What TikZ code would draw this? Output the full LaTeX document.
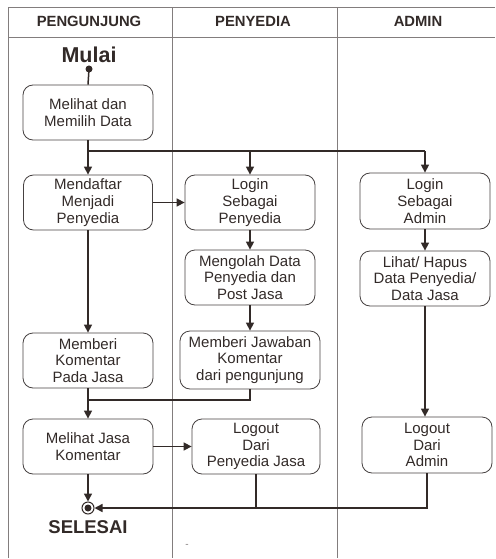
\documentclass[tikz,border=0pt]{standalone}
\usepackage{fontspec}
\setmainfont{Liberation Sans}
\usetikzlibrary{arrows.meta}
\definecolor{lane}{RGB}{130,125,125}
\definecolor{ink}{RGB}{50,42,40}
\definecolor{boxc}{RGB}{70,65,65}
\tikzset{
  act/.style={draw=boxc, line width=0.8pt, rounded corners=10pt, align=center,
     inner sep=0pt, font=\fontsize{15}{16.7}\selectfont, text=ink},
  conn/.style={draw=ink, line width=1.5pt},
  arr/.style={conn, -{Triangle[length=8pt,width=8pt]}},
  hdr/.style={font=\bfseries\fontsize{14.8}{16}\selectfont, text=ink},
}
\begin{document}
\begin{tikzpicture}[x=1pt,y=-1pt]
\useasboundingbox (0,0) rectangle (495,559);
% swimlanes
\draw[lane, line width=1pt] (8,558) -- (8,8) -- (495,8);
\draw[lane, line width=1pt] (8,38) -- (495,38);
\draw[lane, line width=1pt] (172,8) -- (172,558);
\draw[lane, line width=1pt] (337,8) -- (337,558);
\node[hdr] (h1) at (89,21) {PENGUNJUNG};
\node[hdr] (h2) at (253,21) {PENYEDIA};
\node[hdr] (h3) at (418,21) {ADMIN};
% start
\node[font=\bfseries\fontsize{21.5}{22}\selectfont, text=ink] (mulai) at (89,55) {Mulai};
\fill[ink] (89,69) circle (3.5) coordinate (start);
% activities
\node[act, minimum width=130pt, minimum height=55pt] (a1) at (88,112.5) {Melihat dan\\Memilih Data};
\node[act, minimum width=129pt, minimum height=55pt] (a2) at (88,202.5) {Mendaftar\\Menjadi\\Penyedia};
\node[act, minimum width=130pt, minimum height=55pt] (b1) at (250,202.5) {Login\\Sebagai\\Penyedia};
\node[act, minimum width=130pt, minimum height=56pt] (c1) at (425,201) {Login\\Sebagai\\Admin};
\node[act, minimum width=130pt, minimum height=55pt] (b2) at (250,277.5) {Mengolah Data\\Penyedia dan\\Post Jasa};
\node[act, minimum width=130pt, minimum height=55pt] (c2) at (425,278.5) {Lihat/ Hapus\\Data Penyedia/\\Data Jasa};
\node[act, minimum width=130pt, minimum height=55pt] (a3) at (88,360.5) {Memberi\\Komentar\\Pada Jasa};
\node[act, minimum width=140pt, minimum height=58pt] (b3) at (250,360) {Memberi Jawaban\\Komentar\\dari pengunjung};
\node[act, minimum width=130pt, minimum height=55pt] (a4) at (88,446.5) {Melihat Jasa\\Komentar};
\node[act, minimum width=128pt, minimum height=55pt] (b4) at (256,446.5) {Logout\\Dari\\Penyedia Jasa};
\node[act, minimum width=130pt, minimum height=56pt] (c3) at (427,445) {Logout\\Dari\\Admin};
% end
\node[circle, draw=ink, line width=1pt, minimum size=12pt, inner sep=0pt] (end) at (88,508) {};
\fill[ink] (end.center) circle (3.5);
\node[font=\bfseries\fontsize{18.5}{20}\selectfont, text=ink] (selesai) at (88,527) {SELESAI};
\node[font=\fontsize{10}{12}\selectfont, text=lane] (dash) at (187,546) {-};
% connectors
\draw[conn] (start) -- (a1.north);
\coordinate (fork) at (88,151);
\draw[conn] (a1.south) -- (fork);
\draw[conn] (fork) -- (425,151);
\draw[arr] (fork) -- (a2.north);
\draw[arr] (250,151) -- (b1.north);
\draw[arr] (425,151) -- (c1.north);
\draw[arr] (a2.east) -- (b1.west);
\draw[arr] (b1.south) -- (b2.north);
\draw[arr] (c1.south) -- (c2.north);
\draw[arr] (b2.south) -- (b3.north);
\draw[arr] (a2.south) -- (a3.north);
\draw[arr] (c2.south) -- (c2.south |- c3.north);
\coordinate (merge) at (88,400);
\draw[conn] (b3.south) |- (merge);
\draw[arr] (a3.south) -- (a4.north);
\draw[arr] (a4.east) -- (b4.west);
\draw[arr] (a4.south) -- (end.north);
\coordinate (join) at (428,508);
\draw[conn] (c3.south) |- (join);
\draw[conn] (b4.south) -- (256,508);
\draw[arr] (join) -- (end.east);
\end{tikzpicture}
\end{document}
